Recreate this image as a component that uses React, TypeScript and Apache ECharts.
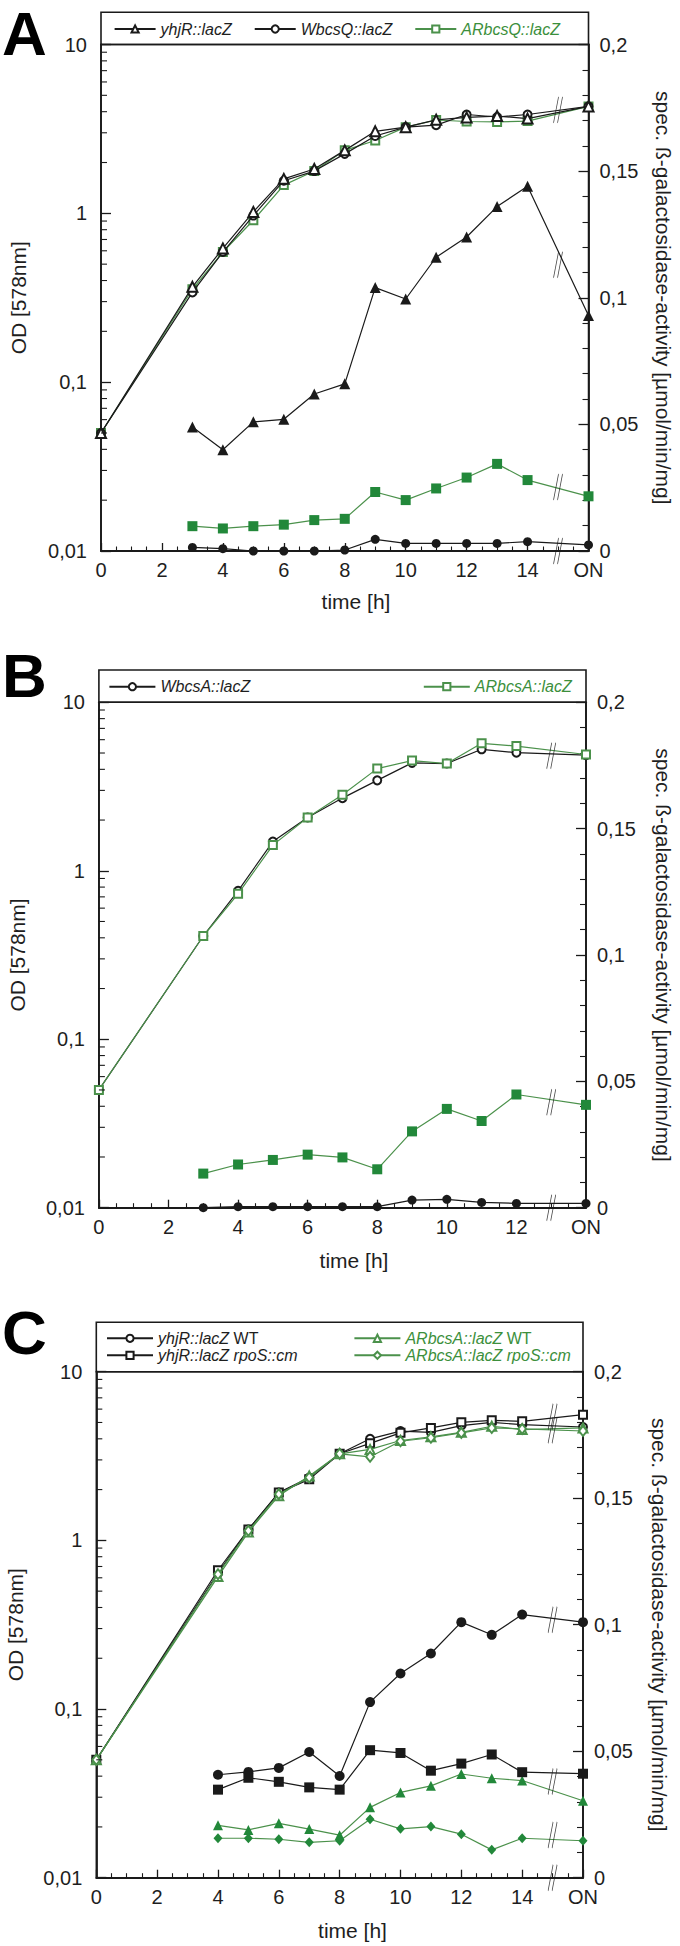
import React, { useEffect, useRef } from 'react';
import * as echarts from 'echarts';

// ---------- Panel A ----------
const timeA_OD = [0, 3, 4, 5, 6, 7, 8, 9, 10, 11, 12, 13, 14, 16];
const odA_yhjR = [0.05, 0.367, 0.62, 1.02, 1.6, 1.83, 2.36, 3.06, 3.24, 3.58, 3.7, 3.77, 3.64, 4.3];
const odA_WbcsQ = [0.05, 0.34, 0.59, 0.97, 1.56, 1.78, 2.25, 2.87, 3.24, 3.33, 3.85, 3.72, 3.85, 4.3];
const odA_ARbcsQ = [0.05, 0.355, 0.59, 0.91, 1.47, 1.78, 2.36, 2.7, 3.24, 3.57, 3.5, 3.48, 3.52, 4.3];
const timeA_act = [3, 4, 5, 6, 7, 8, 9, 10, 11, 12, 13, 14, 16];
const actA_yhjR = [0.049, 0.04, 0.051, 0.052, 0.062, 0.066, 0.104, 0.0995, 0.116, 0.124, 0.136, 0.144, 0.093];
const actA_WbcsQ = [0.0014, 0.0009, 0, 0, 0, 0.0004, 0.0046, 0.003, 0.003, 0.003, 0.003, 0.0037, 0.0024];
const actA_ARbcsQ = [0.0098, 0.0089, 0.0098, 0.0104, 0.0122, 0.0127, 0.0233, 0.0201, 0.0247, 0.029, 0.0344, 0.028, 0.0216];
const breakA_OD = [4.1];
const breakA_act = [0.113, 0.0253, 0];
const xLabelsA = ['0', '2', '4', '6', '8', '10', '12', '14', 'ON'];

// ---------- Panel B ----------
const timeB_OD = [0, 3, 4, 5, 6, 7, 8, 9, 10, 11, 12, 14];
const odB_WbcsA = [0.05, 0.41, 0.76, 1.49, 2.07, 2.7, 3.44, 4.37, 4.33, 5.26, 5.02, 4.86];
const odB_ARbcsA = [0.05, 0.41, 0.73, 1.42, 2.07, 2.83, 4.04, 4.51, 4.33, 5.71, 5.5, 4.9];
const timeB_act = [3, 4, 5, 6, 7, 8, 9, 10, 11, 12, 14];
const actB_ARbcsA = [0.0135, 0.0171, 0.0189, 0.021, 0.0199, 0.0152, 0.0302, 0.0391, 0.0343, 0.0448, 0.0407];
const actB_WbcsA = [0, 0.0004, 0.0004, 0.0004, 0.0004, 0.0004, 0.003, 0.0033, 0.0021, 0.0017, 0.0017];
const breakB_OD = [4.82];
const breakB_act = [0.0417, 0];
const xLabelsB = ['0', '2', '4', '6', '8', '10', '12', 'ON'];

// ---------- Panel C ----------
const timeC_OD = [0, 4, 5, 6, 7, 8, 9, 10, 11, 12, 13, 14, 16];
const odC_yhjR_WT = [0.05, 0.64, 1.16, 1.92, 2.36, 3.26, 4.0, 4.44, 4.37, 4.79, 5.01, 4.85, 4.7];
const odC_yhjR_rpoS = [0.05, 0.665, 1.16, 1.92, 2.3, 3.26, 3.76, 4.34, 4.64, 5.01, 5.15, 5.08, 5.56];
const odC_AR_WT = [0.05, 0.61, 1.12, 1.84, 2.41, 3.26, 3.46, 3.91, 4.11, 4.37, 4.75, 4.54, 4.64];
const odC_AR_rpoS = [0.05, 0.63, 1.14, 1.88, 2.36, 3.26, 3.13, 3.87, 4.06, 4.34, 4.64, 4.58, 4.45];
const timeC_act = [4, 5, 6, 7, 8, 9, 10, 11, 12, 13, 14, 16];
const actC_yhjR_WT = [0.0407, 0.0418, 0.0434, 0.0497, 0.0402, 0.0694, 0.0807, 0.0886, 0.101, 0.096, 0.104, 0.101];
const actC_yhjR_rpoS = [0.0348, 0.0395, 0.0379, 0.0357, 0.0348, 0.0504, 0.0493, 0.0423, 0.0451, 0.0487, 0.0417, 0.0411];
const actC_AR_WT = [0.0207, 0.0189, 0.0215, 0.0192, 0.0168, 0.0278, 0.0337, 0.0363, 0.041, 0.0393, 0.0384, 0.0304];
const actC_AR_rpoS = [0.0156, 0.0156, 0.0152, 0.014, 0.0146, 0.0231, 0.0193, 0.0202, 0.0172, 0.011, 0.0156, 0.0146];
const breakC_OD = [5.4, 4.5];
const breakC_act = [0.102, 0.038, 0.0169, 0];
const xLabelsC = ['0', '2', '4', '6', '8', '10', '12', '14', 'ON'];

const logLabels = ['0,01', '0,1', '1', '10'];
const actLabels = ['0', '0,05', '0,1', '0,15', '0,2'];

// ---------- layout & style ----------
const FONT = '"Liberation Sans", Arial, Helvetica, sans-serif';
const AX = '#1a1a1a';
const TXT = '#1e1e1e';
const GREEN = '#22883a';
const GREEN_LINE = '#4b914b';
const GREEN_TEXT = '#3c8f3c';
const BREAK_PATH = 'path://M0,26L5,0M4,26L9,0';

const PANELS = [
  { left: 101, right: 588.5, legendTop: 12.3, top: 44.5, bottom: 551, letter: 'A', letterTop: 2, timeX: 356, timeY: 601.7, odX: 18, specX: 663, on: 16, brk: 15, xLabels: xLabelsA },
  { left: 98.9, right: 586, legendTop: 670, top: 702.3, bottom: 1207.7, letter: 'B', letterTop: 644, timeX: 354, timeY: 1260, odX: 17, specX: 663, on: 14, brk: 13, xLabels: xLabelsB },
  { left: 96.3, right: 583, legendTop: 1322.3, top: 1371.7, bottom: 1877.7, letter: 'C', letterTop: 1301, timeX: 352.5, timeY: 1930, odX: 15, specX: 659, on: 16, brk: 15, xLabels: xLabelsC },
];

const zip = (xs: number[], ys: number[]) => xs.map((x, k) => [x, ys[k]]);

function lineSeries(name: string, panel: number, axis: number, xs: number[], ys: number[], symbol: string, size: any, color: string, lineColor: string, z: number) {
  const empty = symbol.startsWith('empty');
  return {
    type: 'line',
    name,
    xAxisIndex: panel,
    yAxisIndex: panel * 2 + axis,
    data: zip(xs, ys),
    symbol,
    symbolSize: size,
    showSymbol: true,
    showAllSymbol: true,
    clip: false,
    silent: true,
    z,
    lineStyle: { color: lineColor, width: 1.2 },
    itemStyle: { color, borderColor: color, borderWidth: empty ? 1.2 : 0 },
    emphasis: { disabled: true },
  };
}

function breakSeries(panel: number, axis: number, x: number, vals: number[]) {
  return {
    type: 'scatter',
    xAxisIndex: panel,
    yAxisIndex: panel * 2 + axis,
    data: vals.map((v) => [x, v]),
    symbol: BREAK_PATH,
    symbolSize: [9, 26],
    clip: false,
    silent: true,
    z: 12,
    itemStyle: { color: 'rgba(0,0,0,0)', borderColor: AX, borderWidth: 1.2 },
    emphasis: { disabled: true },
  };
}

function legendRich(color: string) {
  return {
    i: { fontStyle: 'italic', fontSize: 16, lineHeight: 16, color, fontFamily: FONT },
    n: { fontStyle: 'normal', fontSize: 16, lineHeight: 16, color, fontFamily: FONT },
  };
}
const richName = (name: string) => (name.endsWith(' WT') ? `{i|${name.slice(0, -3)}} {n|WT}` : `{i|${name}}`);

function buildOption() {
  const grid = PANELS.map((p) => ({
    left: p.left,
    top: p.top,
    width: p.right - p.left,
    height: p.bottom - p.top,
    show: true,
    borderColor: AX,
    borderWidth: 1.5,
    containLabel: false,
    outerBoundsMode: 'none',
  }));

  const xAxis = PANELS.map((p, i) => ({
    type: 'value',
    gridIndex: i,
    min: 0,
    max: p.on,
    interval: 2,
    axisLine: { show: true, onZero: false, lineStyle: { color: AX, width: 1.8 } },
    axisTick: { show: true, inside: true, length: 8, lineStyle: { color: AX, width: 1.3 } },
    minorTick: { show: true, splitNumber: 4, length: 4.5, lineStyle: { color: AX, width: 1.1 } },
    splitLine: { show: false },
    minorSplitLine: { show: false },
    axisLabel: {
      show: true,
      margin: 9,
      fontSize: 20,
      color: TXT,
      fontFamily: FONT,
      showMinLabel: true,
      showMaxLabel: true,
      formatter: (v: number) => p.xLabels[Math.round(v / 2)] ?? '',
    },
  }));

  const yAxis: any[] = [];
  PANELS.forEach((p, i) => {
    yAxis.push({
      type: 'log',
      logBase: 10,
      gridIndex: i,
      position: 'left',
      min: 0.01,
      max: 10,
      splitNumber: 3,
      axisLine: { show: true, lineStyle: { color: AX, width: 1.8 } },
      axisTick: { show: true, inside: true, length: 10, lineStyle: { color: AX, width: 1.3 } },
      splitLine: { show: false },
      axisLabel: {
        margin: 14,
        fontSize: 20,
        color: TXT,
        fontFamily: FONT,
        showMinLabel: true,
        showMaxLabel: true,
        formatter: (v: number) => logLabels[Math.round(Math.log10(v)) + 2] ?? '',
      },
    });
    yAxis.push({
      type: 'value',
      gridIndex: i,
      position: 'right',
      min: 0,
      max: 0.2,
      interval: 0.05,
      axisLine: { show: true, lineStyle: { color: AX, width: 1.8 } },
      axisTick: { show: true, inside: true, length: 10, lineStyle: { color: AX, width: 1.3 } },
      minorTick: { show: true, splitNumber: 5, length: 6, lineStyle: { color: AX, width: 1.1 } },
      splitLine: { show: false },
      minorSplitLine: { show: false },
      axisLabel: {
        margin: 11,
        fontSize: 20,
        color: TXT,
        fontFamily: FONT,
        showMinLabel: true,
        showMaxLabel: true,
        formatter: (v: number) => actLabels[Math.round(v / 0.05)] ?? '',
      },
    });
  });

  const series: any[] = [
    // Panel A - OD
    lineSeries('WbcsQ::lacZ', 0, 0, timeA_OD, odA_WbcsQ, 'emptyCircle', 8, AX, AX, 3),
    lineSeries('ARbcsQ::lacZ', 0, 0, timeA_OD, odA_ARbcsQ, 'emptyRect', 8, GREEN_LINE, GREEN_LINE, 2),
    lineSeries('yhjR::lacZ', 0, 0, timeA_OD, odA_yhjR, 'emptyTriangle', 10, AX, AX, 4),
    // Panel A - activity
    lineSeries('yhjR::lacZ act', 0, 1, timeA_act, actA_yhjR, 'triangle', 11, AX, AX, 5),
    lineSeries('ARbcsQ::lacZ act', 0, 1, timeA_act, actA_ARbcsQ, 'rect', 10, GREEN, GREEN_LINE, 5),
    lineSeries('WbcsQ::lacZ act', 0, 1, timeA_act, actA_WbcsQ, 'circle', 9, AX, AX, 6),
    breakSeries(0, 0, PANELS[0].brk, breakA_OD),
    breakSeries(0, 1, PANELS[0].brk, breakA_act),

    // Panel B - OD
    lineSeries('WbcsA::lacZ', 1, 0, timeB_OD, odB_WbcsA, 'emptyCircle', 8, AX, AX, 3),
    lineSeries('ARbcsA::lacZ', 1, 0, timeB_OD, odB_ARbcsA, 'emptyRect', 8, GREEN_LINE, GREEN_LINE, 4),
    // Panel B - activity
    lineSeries('ARbcsA::lacZ act', 1, 1, timeB_act, actB_ARbcsA, 'rect', 10, GREEN, GREEN_LINE, 5),
    lineSeries('WbcsA::lacZ act', 1, 1, timeB_act, actB_WbcsA, 'circle', 9, AX, AX, 6),
    breakSeries(1, 0, PANELS[1].brk, breakB_OD),
    breakSeries(1, 1, PANELS[1].brk, breakB_act),

    // Panel C - OD
    lineSeries('yhjR::lacZ WT', 2, 0, timeC_OD, odC_yhjR_WT, 'emptyCircle', 8, AX, AX, 3),
    lineSeries('yhjR::lacZ rpoS::cm', 2, 0, timeC_OD, odC_yhjR_rpoS, 'emptyRect', 8, AX, AX, 3),
    lineSeries('ARbcsA::lacZ WT', 2, 0, timeC_OD, odC_AR_WT, 'emptyTriangle', 9, GREEN_LINE, GREEN_LINE, 4),
    lineSeries('ARbcsA::lacZ rpoS::cm', 2, 0, timeC_OD, odC_AR_rpoS, 'emptyDiamond', [8, 10], GREEN_LINE, GREEN_LINE, 4),
    // Panel C - activity
    lineSeries('yhjR::lacZ WT act', 2, 1, timeC_act, actC_yhjR_WT, 'circle', 10, AX, AX, 6),
    lineSeries('yhjR::lacZ rpoS::cm act', 2, 1, timeC_act, actC_yhjR_rpoS, 'rect', 10, AX, AX, 6),
    lineSeries('ARbcsA::lacZ WT act', 2, 1, timeC_act, actC_AR_WT, 'triangle', 10, GREEN, GREEN_LINE, 5),
    lineSeries('ARbcsA::lacZ rpoS::cm act', 2, 1, timeC_act, actC_AR_rpoS, 'diamond', [9, 10], GREEN, GREEN_LINE, 5),
    breakSeries(2, 0, PANELS[2].brk, breakC_OD),
    breakSeries(2, 1, PANELS[2].brk, breakC_act),
  ];

  const legendBase = {
    padding: 0,
    selectedMode: false,
    itemHeight: 9,
    textStyle: { fontSize: 16, lineHeight: 16, fontStyle: 'italic', color: TXT, fontFamily: FONT },
  };

  const legend = [
    {
      ...legendBase,
      left: 113.6,
      top: 21,
      itemWidth: 41,
      itemGap: 22,
      data: [
        { name: 'yhjR::lacZ' },
        { name: 'WbcsQ::lacZ' },
        { name: 'ARbcsQ::lacZ', textStyle: { color: GREEN_TEXT } },
      ],
    },
    { ...legendBase, left: 108.4, top: 678.7, itemWidth: 46, data: [{ name: 'WbcsA::lacZ' }] },
    {
      ...legendBase,
      left: 422.8,
      top: 678.7,
      itemWidth: 46,
      data: [{ name: 'ARbcsA::lacZ', textStyle: { color: GREEN_TEXT } }],
    },
    {
      ...legendBase,
      left: 106,
      top: 1330.3,
      orient: 'vertical',
      itemWidth: 46,
      itemGap: 1,
      formatter: richName,
      textStyle: { ...legendBase.textStyle, fontStyle: 'normal', rich: legendRich(TXT) },
      data: ['yhjR::lacZ WT', 'yhjR::lacZ rpoS::cm'],
    },
    {
      ...legendBase,
      left: 353.4,
      top: 1330.3,
      orient: 'vertical',
      itemWidth: 46,
      itemGap: 1,
      formatter: richName,
      textStyle: { ...legendBase.textStyle, fontStyle: 'normal', color: GREEN_TEXT, rich: legendRich(GREEN_TEXT) },
      data: ['ARbcsA::lacZ WT', 'ARbcsA::lacZ rpoS::cm'],
    },
  ];

  return {
    animation: false,
    backgroundColor: '#ffffff',
    grid,
    xAxis,
    yAxis,
    legend,
    series,
  };
}

function buildGraphic(chart: echarts.ECharts) {
  const els: any[] = [];
  PANELS.forEach((p, i) => {
    const midY = (p.top + p.bottom) / 2;
    // panel letter
    els.push({
      type: 'text',
      x: 2,
      y: p.letterTop,
      silent: true,
      style: {
        text: p.letter,
        fontSize: 62,
        fontWeight: 'bold',
        fontFamily: FONT,
        fill: '#000',
        align: 'left',
        verticalAlign: 'top',
      },
    });
    // legend box
    els.push({
      type: 'rect',
      silent: true,
      shape: { x: p.left, y: p.legendTop, width: p.right - p.left, height: p.top - p.legendTop },
      style: { fill: 'none', stroke: AX, lineWidth: 1.6 },
      z: 20,
    });
    // axis titles
    els.push({
      type: 'text',
      x: p.odX,
      y: midY,
      rotation: Math.PI / 2,
      silent: true,
      style: { text: 'OD [578nm]', fontSize: 21, fontFamily: FONT, fill: TXT, align: 'center', verticalAlign: 'middle' },
    });
    els.push({
      type: 'text',
      x: p.specX,
      y: midY,
      rotation: -Math.PI / 2,
      silent: true,
      style: {
        text: 'spec. ß-galactosidase-activity [µmol/min/mg]',
        fontSize: 21,
        fontFamily: FONT,
        fill: TXT,
        align: 'center',
        verticalAlign: 'middle',
      },
    });
    els.push({
      type: 'text',
      x: p.timeX,
      y: p.timeY,
      silent: true,
      style: { text: 'time [h]', fontSize: 21, fontFamily: FONT, fill: TXT, align: 'center', verticalAlign: 'middle' },
    });
    // log minor ticks
    [0.01, 0.1, 1].forEach((d) => {
      for (let m = 2; m <= 9; m++) {
        const y = chart.convertToPixel({ yAxisIndex: i * 2 } as any, d * m) as unknown as number;
        if (typeof y === 'number' && isFinite(y)) {
          els.push({
            type: 'line',
            silent: true,
            shape: { x1: p.left, y1: y, x2: p.left + 6, y2: y },
            style: { stroke: AX, lineWidth: 1.1 },
            z: 20,
          });
        }
      }
    });
  });
  return els;
}

export default function App() {
  const ref = useRef<HTMLDivElement>(null);
  useEffect(() => {
    document.body.style.margin = '0';
    if (!ref.current) return;
    const chart = echarts.init(ref.current, undefined, { renderer: 'svg' });
    chart.setOption(buildOption() as any);
    chart.setOption({ graphic: buildGraphic(chart) } as any);
    return () => chart.dispose();
  }, []);
  return (
    <div
      ref={ref}
      style={{ position: 'absolute', left: 0, top: 0, width: 680, height: 1946, background: '#fff' }}
    />
  );
}
